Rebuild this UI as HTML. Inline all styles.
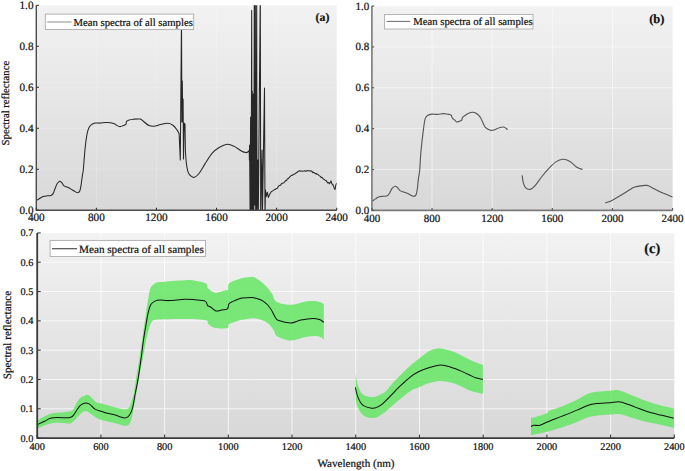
<!DOCTYPE html>
<html><head><meta charset="utf-8"><style>
html,body{margin:0;padding:0;background:#fff;width:685px;height:471px;overflow:hidden}
text{text-rendering:geometricPrecision;stroke:#111;stroke-width:0.22px}
</style></head><body>
<svg width="685" height="471" viewBox="0 0 685 471" style="display:block">
<defs>
<linearGradient id="gA" x1="0" y1="0" x2="0" y2="1"><stop offset="0" stop-color="#f2f2f2"/><stop offset="1" stop-color="#d8d8d8"/></linearGradient>
<linearGradient id="gC" x1="0" y1="0" x2="0" y2="1"><stop offset="0" stop-color="#f2f2f2"/><stop offset="1" stop-color="#d8d8d8"/></linearGradient>
<clipPath id="cA"><rect x="36.3" y="5.3" width="300.4" height="205.0"/></clipPath>
<clipPath id="cB"><rect x="371.9" y="6.0" width="300.70000000000005" height="204.4"/></clipPath>
<clipPath id="cC"><rect x="37.2" y="232.9" width="637.0999999999999" height="205.20000000000002"/></clipPath>
</defs>
<rect width="685" height="471" fill="#fff"/>
<rect x="36.3" y="5.3" width="300.4" height="205.0" fill="url(#gA)"/>
<line x1="96.38" y1="5.3" x2="96.38" y2="210.3" stroke="#ffffff" stroke-opacity="0.18" stroke-width="1"/>
<line x1="156.46" y1="5.3" x2="156.46" y2="210.3" stroke="#ffffff" stroke-opacity="0.18" stroke-width="1"/>
<line x1="216.54" y1="5.3" x2="216.54" y2="210.3" stroke="#ffffff" stroke-opacity="0.18" stroke-width="1"/>
<line x1="276.62" y1="5.3" x2="276.62" y2="210.3" stroke="#ffffff" stroke-opacity="0.18" stroke-width="1"/>
<line x1="36.3" y1="169.30" x2="336.7" y2="169.30" stroke="#ffffff" stroke-opacity="0.18" stroke-width="1"/>
<line x1="36.3" y1="128.30" x2="336.7" y2="128.30" stroke="#ffffff" stroke-opacity="0.18" stroke-width="1"/>
<line x1="36.3" y1="87.30" x2="336.7" y2="87.30" stroke="#ffffff" stroke-opacity="0.18" stroke-width="1"/>
<line x1="36.3" y1="46.30" x2="336.7" y2="46.30" stroke="#ffffff" stroke-opacity="0.18" stroke-width="1"/>
<line x1="36.3" y1="5.30" x2="336.7" y2="5.30" stroke="#ffffff" stroke-opacity="0.18" stroke-width="1"/>
<g clip-path="url(#cA)"><path d="M36.90,200.20 C37.48,199.83 39.23,198.65 40.40,198.00 C41.57,197.35 42.73,196.67 43.90,196.30 C45.07,195.93 46.23,195.95 47.40,195.80 C48.57,195.65 49.95,195.77 50.90,195.40 C51.85,195.03 52.45,194.62 53.10,193.60 C53.75,192.58 54.15,190.90 54.80,189.30 C55.45,187.70 56.20,185.35 57.00,184.00 C57.80,182.65 58.80,181.42 59.60,181.20 C60.40,180.98 61.07,181.93 61.80,182.70 C62.53,183.47 63.05,185.03 64.00,185.80 C64.95,186.57 66.33,186.75 67.50,187.30 C68.67,187.85 69.83,188.45 71.00,189.10 C72.17,189.75 73.40,190.58 74.50,191.20 C75.60,191.82 76.72,192.83 77.60,192.80 C78.48,192.77 79.22,192.32 79.80,191.00 C80.38,189.68 80.67,187.52 81.10,184.90 C81.53,182.28 82.03,177.78 82.40,175.30 C82.77,172.82 82.85,174.52 83.30,170.00 C83.75,165.48 84.48,154.17 85.10,148.20 C85.72,142.23 86.37,137.60 87.00,134.20 C87.63,130.80 88.15,129.40 88.90,127.80 C89.65,126.20 90.43,125.40 91.50,124.60 C92.57,123.80 93.82,123.25 95.30,123.00 C96.78,122.75 98.70,123.18 100.40,123.10 C102.10,123.02 103.80,122.57 105.50,122.50 C107.20,122.43 109.12,122.48 110.60,122.70 C112.08,122.92 113.35,123.33 114.40,123.80 C115.45,124.27 115.95,125.03 116.90,125.50 C117.85,125.97 119.03,126.60 120.10,126.60 C121.17,126.60 122.33,125.88 123.30,125.50 C124.27,125.12 125.37,124.97 125.90,124.30 C126.43,123.63 126.08,122.18 126.50,121.50 C126.92,120.82 127.23,120.58 128.40,120.20 C129.57,119.82 131.55,119.38 133.50,119.20 C135.45,119.02 138.37,118.68 140.10,119.10 C141.83,119.52 142.42,120.63 143.90,121.70 C145.38,122.77 147.08,124.77 149.00,125.50 C150.92,126.23 153.48,126.27 155.40,126.10 C157.32,125.93 158.38,124.97 160.50,124.50 C162.62,124.03 165.98,123.13 168.10,123.30 C170.22,123.47 171.72,124.40 173.20,125.50 C174.68,126.60 176.02,128.55 177.00,129.90 C177.98,131.25 178.75,132.98 179.10,133.60 L179.10,133.60 L180.30,160.00 L180.60,123.00 L181.50,20.00 L181.90,122.00 L182.30,81.00 L182.70,122.00 L183.10,99.00 L183.50,159.00 L184.10,123.00 L185.00,124.00 L185.40,151.00 L185.40,151.00 C185.55,152.95 185.85,159.18 186.30,162.70 C186.75,166.22 187.32,169.85 188.10,172.10 C188.88,174.35 189.93,175.33 191.00,176.20 C192.07,177.07 193.13,177.80 194.50,177.30 C195.87,176.80 197.45,175.43 199.20,173.20 C200.95,170.97 202.87,167.20 205.00,163.90 C207.13,160.60 209.65,156.13 212.00,153.40 C214.35,150.67 216.57,149.02 219.10,147.50 C221.63,145.98 224.67,144.48 227.20,144.30 C229.73,144.12 231.95,145.28 234.30,146.40 C236.65,147.52 239.37,149.97 241.30,151.00 C243.23,152.03 244.73,152.50 245.90,152.60 C247.07,152.70 247.75,152.03 248.30,151.60 C248.85,151.17 249.05,150.27 249.20,150.00 L249.20,150.00 L249.40,160.00 L249.60,145.00 L250.10,215.00 L250.60,117.00 L251.10,215.00 L251.70,10.40 L252.00,215.00 L252.30,91.00 L252.80,215.00 L253.40,94.00 L253.80,215.00 L254.30,-10.00 L254.70,205.00 L255.30,-10.00 L255.70,215.00 L255.90,82.00 L256.20,215.00 L256.70,-10.00 L257.00,215.00 L257.80,160.00 L258.30,215.00 L260.30,-10.00 L260.70,215.00 L262.00,150.00 L262.40,215.00 L264.50,88.00 L265.00,215.00 L265.50,190.00 L266.20,196.60 L266.20,196.60 L267.30,192.20 L268.40,197.52 L269.25,195.15 L270.10,193.45 L271.20,191.77 L272.30,191.14 L273.40,190.42 L274.50,189.56 L275.43,189.44 L276.37,188.40 L277.30,188.23 L278.15,186.77 L279.00,185.69 L279.83,185.37 L280.67,185.13 L281.50,183.77 L282.33,183.22 L283.17,182.98 L284.00,182.65 L284.86,181.53 L285.71,180.61 L286.57,180.44 L287.42,178.77 L288.28,178.84 L289.13,177.52 L289.99,176.63 L290.84,175.86 L291.70,175.31 L292.57,175.33 L293.43,174.20 L294.30,174.11 L295.17,173.68 L296.03,172.93 L296.90,172.61 L297.77,171.64 L298.63,171.15 L299.50,170.81 L300.40,171.28 L301.30,171.03 L302.20,170.91 L303.10,171.19 L304.00,171.05 L304.82,170.82 L305.65,171.24 L306.48,171.07 L307.30,170.54 L308.12,170.80 L308.95,170.68 L309.78,170.95 L310.60,170.73 L311.70,171.14 L312.80,172.68 L313.64,172.23 L314.48,172.94 L315.31,173.69 L316.15,173.50 L316.99,174.25 L317.82,174.21 L318.66,175.28 L319.50,175.84 L320.42,176.35 L321.33,177.60 L322.25,177.42 L323.17,178.88 L324.08,179.45 L325.00,180.18 L326.00,180.39 L327.00,181.89 L327.83,183.00 L328.67,182.46 L329.50,183.80 L331.00,181.03 L331.90,183.91 L332.80,184.44 L334.00,187.41 L335.00,189.61 L335.85,184.89 L336.70,183.30" fill="none" stroke="#262626" stroke-width="1.05" stroke-linejoin="round"/></g>
<path d="M36.3,5.3 L36.3,210.3 L336.7,210.3" fill="none" stroke="#4a4a4a" stroke-width="1.4"/>
<line x1="36.30" y1="210.3" x2="36.30" y2="207.70" stroke="#333" stroke-width="1.1"/>
<text x="36.30" y="221.2" text-anchor="middle" style="font-family:'Liberation Serif',serif;font-size:11.2px" fill="#111">400</text>
<line x1="96.38" y1="210.3" x2="96.38" y2="207.70" stroke="#333" stroke-width="1.1"/>
<text x="96.38" y="221.2" text-anchor="middle" style="font-family:'Liberation Serif',serif;font-size:11.2px" fill="#111">800</text>
<line x1="156.46" y1="210.3" x2="156.46" y2="207.70" stroke="#333" stroke-width="1.1"/>
<text x="156.46" y="221.2" text-anchor="middle" style="font-family:'Liberation Serif',serif;font-size:11.2px" fill="#111">1200</text>
<line x1="216.54" y1="210.3" x2="216.54" y2="207.70" stroke="#333" stroke-width="1.1"/>
<text x="216.54" y="221.2" text-anchor="middle" style="font-family:'Liberation Serif',serif;font-size:11.2px" fill="#111">1600</text>
<line x1="276.62" y1="210.3" x2="276.62" y2="207.70" stroke="#333" stroke-width="1.1"/>
<text x="276.62" y="221.2" text-anchor="middle" style="font-family:'Liberation Serif',serif;font-size:11.2px" fill="#111">2000</text>
<line x1="336.70" y1="210.3" x2="336.70" y2="207.70" stroke="#333" stroke-width="1.1"/>
<text x="336.70" y="221.2" text-anchor="middle" style="font-family:'Liberation Serif',serif;font-size:11.2px" fill="#111">2400</text>
<line x1="36.3" y1="210.30" x2="38.90" y2="210.30" stroke="#333" stroke-width="1.1"/>
<text x="33.5" y="213.90" text-anchor="end" style="font-family:'Liberation Serif',serif;font-size:11.2px" fill="#111">0.0</text>
<line x1="36.3" y1="169.30" x2="38.90" y2="169.30" stroke="#333" stroke-width="1.1"/>
<text x="33.5" y="172.90" text-anchor="end" style="font-family:'Liberation Serif',serif;font-size:11.2px" fill="#111">0.2</text>
<line x1="36.3" y1="128.30" x2="38.90" y2="128.30" stroke="#333" stroke-width="1.1"/>
<text x="33.5" y="131.90" text-anchor="end" style="font-family:'Liberation Serif',serif;font-size:11.2px" fill="#111">0.4</text>
<line x1="36.3" y1="87.30" x2="38.90" y2="87.30" stroke="#333" stroke-width="1.1"/>
<text x="33.5" y="90.90" text-anchor="end" style="font-family:'Liberation Serif',serif;font-size:11.2px" fill="#111">0.6</text>
<line x1="36.3" y1="46.30" x2="38.90" y2="46.30" stroke="#333" stroke-width="1.1"/>
<text x="33.5" y="49.90" text-anchor="end" style="font-family:'Liberation Serif',serif;font-size:11.2px" fill="#111">0.8</text>
<line x1="36.3" y1="5.30" x2="38.90" y2="5.30" stroke="#333" stroke-width="1.1"/>
<text x="33.5" y="8.90" text-anchor="end" style="font-family:'Liberation Serif',serif;font-size:11.2px" fill="#111">1.0</text>
<rect x="45.3" y="14.1" width="148.39999999999998" height="15.500000000000002" fill="#fff" stroke="#a8a8a8" stroke-width="0.85"/>
<line x1="47.2" y1="22.0" x2="71.5" y2="22.0" stroke="#a0a0a0" stroke-width="1.2"/>
<text x="73.5" y="25.6" style="font-family:'Liberation Serif',serif;font-size:10.7px" fill="#111">Mean spectra of all samples</text>
<text x="315.6" y="20.8" style="font-family:'Liberation Serif',serif;font-size:11.8px;font-weight:bold" fill="#111">(a)</text>
<text transform="translate(9.2,145.4) rotate(-90)" x="0" y="0" style="font-family:'Liberation Serif',serif;font-size:10.7px" fill="#111">Spectral reflectance</text>
<rect x="371.9" y="6.0" width="300.70000000000005" height="204.4" fill="url(#gA)"/>
<line x1="432.04" y1="6.0" x2="432.04" y2="210.4" stroke="#ffffff" stroke-opacity="0.5" stroke-width="1"/>
<line x1="492.18" y1="6.0" x2="492.18" y2="210.4" stroke="#ffffff" stroke-opacity="0.5" stroke-width="1"/>
<line x1="552.32" y1="6.0" x2="552.32" y2="210.4" stroke="#ffffff" stroke-opacity="0.5" stroke-width="1"/>
<line x1="612.46" y1="6.0" x2="612.46" y2="210.4" stroke="#ffffff" stroke-opacity="0.5" stroke-width="1"/>
<line x1="371.9" y1="169.52" x2="672.6" y2="169.52" stroke="#ffffff" stroke-opacity="0.5" stroke-width="1"/>
<line x1="371.9" y1="128.64" x2="672.6" y2="128.64" stroke="#ffffff" stroke-opacity="0.5" stroke-width="1"/>
<line x1="371.9" y1="87.76" x2="672.6" y2="87.76" stroke="#ffffff" stroke-opacity="0.5" stroke-width="1"/>
<line x1="371.9" y1="46.88" x2="672.6" y2="46.88" stroke="#ffffff" stroke-opacity="0.5" stroke-width="1"/>
<line x1="371.9" y1="6.00" x2="672.6" y2="6.00" stroke="#ffffff" stroke-opacity="0.5" stroke-width="1"/>
<path d="M372.40,201.10 C372.92,200.73 374.40,199.63 375.50,198.90 C376.60,198.17 377.68,197.13 379.00,196.70 C380.32,196.27 382.02,196.45 383.40,196.30 C384.78,196.15 386.28,196.32 387.30,195.80 C388.32,195.28 388.70,194.43 389.50,193.20 C390.30,191.97 391.15,189.57 392.10,188.40 C393.05,187.23 394.32,186.35 395.20,186.20 C396.08,186.05 396.60,186.77 397.40,187.50 C398.20,188.23 398.98,189.87 400.00,190.60 C401.02,191.33 402.18,191.40 403.50,191.90 C404.82,192.40 406.58,193.02 407.90,193.60 C409.22,194.18 410.38,194.93 411.40,195.40 C412.42,195.87 413.20,196.55 414.00,196.40 C414.80,196.25 415.62,195.98 416.20,194.50 C416.78,193.02 417.13,190.12 417.50,187.50 C417.87,184.88 418.03,181.72 418.40,178.80 C418.77,175.88 419.27,174.63 419.70,170.00 C420.13,165.37 420.37,157.85 421.00,151.00 C421.63,144.15 422.80,134.28 423.50,128.90 C424.20,123.52 424.50,120.97 425.20,118.70 C425.90,116.43 426.57,116.07 427.70,115.30 C428.83,114.53 430.43,114.25 432.00,114.10 C433.57,113.95 435.27,114.48 437.10,114.40 C438.93,114.32 441.57,113.68 443.00,113.60 C444.43,113.52 444.70,113.77 445.70,113.90 C446.70,114.03 448.10,114.18 449.00,114.40 C449.90,114.62 450.53,114.58 451.10,115.20 C451.67,115.82 451.82,117.30 452.40,118.10 C452.98,118.90 453.90,119.37 454.60,120.00 C455.30,120.63 455.75,121.70 456.60,121.90 C457.45,122.10 458.85,121.48 459.70,121.20 C460.55,120.92 461.22,120.85 461.70,120.20 C462.18,119.55 461.97,118.13 462.60,117.30 C463.23,116.47 464.48,115.87 465.50,115.20 C466.52,114.53 467.53,113.78 468.70,113.30 C469.87,112.82 471.33,112.35 472.50,112.30 C473.67,112.25 474.45,112.25 475.70,113.00 C476.95,113.75 478.83,115.25 480.00,116.80 C481.17,118.35 481.82,120.53 482.70,122.30 C483.58,124.07 484.02,126.08 485.30,127.40 C486.58,128.72 488.92,129.78 490.40,130.20 C491.88,130.62 492.72,130.30 494.20,129.90 C495.68,129.50 497.70,128.28 499.30,127.80 C500.90,127.32 502.42,126.70 503.80,127.00 C505.18,127.30 506.97,129.17 507.60,129.60" fill="none" stroke="#555" stroke-width="1.12" stroke-linejoin="round"/>
<path d="M522.20,175.40 C522.37,176.57 522.65,180.37 523.20,182.40 C523.75,184.43 524.33,186.43 525.50,187.60 C526.67,188.77 528.63,189.68 530.20,189.40 C531.77,189.12 532.95,188.05 534.90,185.90 C536.85,183.75 539.57,179.42 541.90,176.50 C544.23,173.58 546.57,170.83 548.90,168.40 C551.23,165.97 553.57,163.42 555.90,161.90 C558.23,160.38 560.57,159.38 562.90,159.30 C565.23,159.22 567.57,160.08 569.90,161.40 C572.23,162.72 574.80,165.85 576.90,167.20 C579.00,168.55 581.57,169.12 582.50,169.50" fill="none" stroke="#555" stroke-width="1.12" stroke-linejoin="round"/>
<path d="M605.20,202.90 C606.33,202.48 609.30,201.70 612.00,200.40 C614.70,199.10 617.90,197.20 621.40,195.10 C624.90,193.00 630.28,189.25 633.00,187.80 C635.72,186.35 635.37,186.80 637.70,186.40 C640.03,186.00 644.28,185.02 647.00,185.40 C649.72,185.78 651.47,187.47 654.00,188.70 C656.53,189.93 659.12,191.43 662.20,192.80 C665.28,194.17 670.78,196.22 672.50,196.90" fill="none" stroke="#555" stroke-width="1.12" stroke-linejoin="round"/>
<path d="M371.9,6.0 L371.9,210.4 L672.6,210.4" fill="none" stroke="#7a7a7a" stroke-width="1.6"/>
<line x1="371.90" y1="210.4" x2="371.90" y2="208.10" stroke="#555" stroke-width="1.1"/>
<text x="371.90" y="221.6" text-anchor="middle" style="font-family:'Liberation Serif',serif;font-size:11px" fill="#111">400</text>
<line x1="432.04" y1="210.4" x2="432.04" y2="208.10" stroke="#555" stroke-width="1.1"/>
<text x="432.04" y="221.6" text-anchor="middle" style="font-family:'Liberation Serif',serif;font-size:11px" fill="#111">800</text>
<line x1="492.18" y1="210.4" x2="492.18" y2="208.10" stroke="#555" stroke-width="1.1"/>
<text x="492.18" y="221.6" text-anchor="middle" style="font-family:'Liberation Serif',serif;font-size:11px" fill="#111">1200</text>
<line x1="552.32" y1="210.4" x2="552.32" y2="208.10" stroke="#555" stroke-width="1.1"/>
<text x="552.32" y="221.6" text-anchor="middle" style="font-family:'Liberation Serif',serif;font-size:11px" fill="#111">1600</text>
<line x1="612.46" y1="210.4" x2="612.46" y2="208.10" stroke="#555" stroke-width="1.1"/>
<text x="612.46" y="221.6" text-anchor="middle" style="font-family:'Liberation Serif',serif;font-size:11px" fill="#111">2000</text>
<line x1="672.60" y1="210.4" x2="672.60" y2="208.10" stroke="#555" stroke-width="1.1"/>
<text x="672.60" y="221.6" text-anchor="middle" style="font-family:'Liberation Serif',serif;font-size:11px" fill="#111">2400</text>
<line x1="371.9" y1="210.40" x2="374.20" y2="210.40" stroke="#555" stroke-width="1.1"/>
<text x="369.2" y="214.00" text-anchor="end" style="font-family:'Liberation Serif',serif;font-size:11px" fill="#111">0.0</text>
<line x1="371.9" y1="169.52" x2="374.20" y2="169.52" stroke="#555" stroke-width="1.1"/>
<text x="369.2" y="173.12" text-anchor="end" style="font-family:'Liberation Serif',serif;font-size:11px" fill="#111">0.2</text>
<line x1="371.9" y1="128.64" x2="374.20" y2="128.64" stroke="#555" stroke-width="1.1"/>
<text x="369.2" y="132.24" text-anchor="end" style="font-family:'Liberation Serif',serif;font-size:11px" fill="#111">0.4</text>
<line x1="371.9" y1="87.76" x2="374.20" y2="87.76" stroke="#555" stroke-width="1.1"/>
<text x="369.2" y="91.36" text-anchor="end" style="font-family:'Liberation Serif',serif;font-size:11px" fill="#111">0.6</text>
<line x1="371.9" y1="46.88" x2="374.20" y2="46.88" stroke="#555" stroke-width="1.1"/>
<text x="369.2" y="50.48" text-anchor="end" style="font-family:'Liberation Serif',serif;font-size:11px" fill="#111">0.8</text>
<line x1="371.9" y1="6.00" x2="374.20" y2="6.00" stroke="#555" stroke-width="1.1"/>
<text x="369.2" y="9.60" text-anchor="end" style="font-family:'Liberation Serif',serif;font-size:11px" fill="#111">1.0</text>
<rect x="384.6" y="14.4" width="148.39999999999998" height="14.6" fill="#fff" stroke="#a8a8a8" stroke-width="0.85"/>
<line x1="386.6" y1="21.4" x2="410.2" y2="21.4" stroke="#6a6a6a" stroke-width="1.0"/>
<text x="413.3" y="25.3" style="font-family:'Liberation Serif',serif;font-size:10.7px" fill="#111">Mean spectra of all samples</text>
<text x="649.2" y="23.1" style="font-family:'Liberation Serif',serif;font-size:12.5px;font-weight:bold" fill="#111">(b)</text>
<rect x="37.2" y="232.9" width="637.0999999999999" height="205.20000000000002" fill="url(#gC)"/>
<line x1="100.91" y1="232.9" x2="100.91" y2="438.1" stroke="#ffffff" stroke-opacity="0.72" stroke-width="1"/>
<line x1="164.62" y1="232.9" x2="164.62" y2="438.1" stroke="#ffffff" stroke-opacity="0.72" stroke-width="1"/>
<line x1="228.33" y1="232.9" x2="228.33" y2="438.1" stroke="#ffffff" stroke-opacity="0.72" stroke-width="1"/>
<line x1="292.04" y1="232.9" x2="292.04" y2="438.1" stroke="#ffffff" stroke-opacity="0.72" stroke-width="1"/>
<line x1="355.75" y1="232.9" x2="355.75" y2="438.1" stroke="#ffffff" stroke-opacity="0.72" stroke-width="1"/>
<line x1="419.46" y1="232.9" x2="419.46" y2="438.1" stroke="#ffffff" stroke-opacity="0.72" stroke-width="1"/>
<line x1="483.17" y1="232.9" x2="483.17" y2="438.1" stroke="#ffffff" stroke-opacity="0.72" stroke-width="1"/>
<line x1="546.88" y1="232.9" x2="546.88" y2="438.1" stroke="#ffffff" stroke-opacity="0.72" stroke-width="1"/>
<line x1="610.59" y1="232.9" x2="610.59" y2="438.1" stroke="#ffffff" stroke-opacity="0.72" stroke-width="1"/>
<line x1="37.2" y1="408.79" x2="674.3" y2="408.79" stroke="#ffffff" stroke-opacity="0.72" stroke-width="1"/>
<line x1="37.2" y1="379.47" x2="674.3" y2="379.47" stroke="#ffffff" stroke-opacity="0.72" stroke-width="1"/>
<line x1="37.2" y1="350.16" x2="674.3" y2="350.16" stroke="#ffffff" stroke-opacity="0.72" stroke-width="1"/>
<line x1="37.2" y1="320.84" x2="674.3" y2="320.84" stroke="#ffffff" stroke-opacity="0.72" stroke-width="1"/>
<line x1="37.2" y1="291.53" x2="674.3" y2="291.53" stroke="#ffffff" stroke-opacity="0.72" stroke-width="1"/>
<line x1="37.2" y1="262.21" x2="674.3" y2="262.21" stroke="#ffffff" stroke-opacity="0.72" stroke-width="1"/>
<line x1="37.2" y1="232.90" x2="674.3" y2="232.90" stroke="#ffffff" stroke-opacity="0.72" stroke-width="1"/>
<path d="M37.00,420.90 C38.25,420.18 41.98,417.87 44.50,416.60 C47.02,415.33 49.27,414.00 52.10,413.30 C54.93,412.60 58.23,412.83 61.50,412.40 C64.77,411.97 69.45,411.77 71.70,410.70 C73.95,409.63 73.88,407.77 75.00,406.00 C76.12,404.23 77.27,401.65 78.40,400.10 C79.53,398.55 80.87,397.40 81.80,396.70 C82.73,396.00 83.07,396.23 84.00,395.90 C84.93,395.57 86.27,394.55 87.40,394.70 C88.53,394.85 89.38,395.60 90.80,396.80 C92.22,398.00 94.07,400.77 95.90,401.90 C97.73,403.03 99.12,402.82 101.80,403.60 C104.48,404.38 108.73,405.68 112.00,406.60 C115.27,407.52 118.85,408.68 121.40,409.10 C123.95,409.52 125.82,409.73 127.30,409.10 C128.78,408.47 129.45,407.07 130.30,405.30 C131.15,403.53 131.78,400.63 132.40,398.50 C133.02,396.37 133.52,394.92 134.00,392.50 C134.48,390.08 134.42,389.57 135.30,384.00 C136.18,378.43 138.17,366.43 139.30,359.10 C140.43,351.77 141.07,347.07 142.10,340.00 C143.13,332.93 144.60,322.85 145.50,316.70 C146.40,310.55 146.82,307.40 147.50,303.10 C148.18,298.80 148.92,293.72 149.60,290.90 C150.28,288.08 150.70,287.43 151.60,286.20 C152.50,284.97 153.60,284.18 155.00,283.50 C156.40,282.82 155.00,282.65 160.00,282.10 C165.00,281.55 179.18,280.43 185.00,280.20 C190.82,279.97 191.45,280.18 194.90,280.70 C198.35,281.22 203.58,282.13 205.70,283.30 C207.82,284.47 207.07,286.75 207.60,287.70 C208.13,288.65 207.62,288.15 208.90,289.00 C210.18,289.85 212.53,292.58 215.30,292.80 C218.07,293.02 223.38,290.83 225.50,290.30 C227.62,289.77 227.37,290.77 228.00,289.60 C228.63,288.43 227.30,285.10 229.30,283.30 C231.30,281.50 236.57,279.83 240.00,278.80 C243.43,277.77 247.40,277.30 249.90,277.10 C252.40,276.90 252.45,276.23 255.00,277.60 C257.55,278.97 262.37,282.60 265.20,285.30 C268.03,288.00 270.17,291.12 272.00,293.80 C273.83,296.48 273.08,299.57 276.20,301.40 C279.32,303.23 285.75,304.80 290.70,304.80 C295.65,304.80 301.38,301.97 305.90,301.40 C310.42,300.83 314.82,300.97 317.80,301.40 C320.78,301.83 322.80,303.57 323.80,304.00 L323.80,339.30 C322.80,338.78 320.78,336.57 317.80,336.20 C314.82,335.83 310.42,336.38 305.90,337.10 C301.38,337.82 295.50,340.65 290.70,340.50 C285.90,340.35 279.93,337.90 277.10,336.20 C274.27,334.50 275.40,332.57 273.70,330.30 C272.00,328.03 270.13,324.60 266.90,322.60 C263.67,320.60 258.37,318.77 254.30,318.30 C250.23,317.83 244.88,319.48 242.50,319.80 C240.12,320.12 242.20,319.50 240.00,320.20 C237.80,320.90 231.40,322.72 229.30,324.00 C227.20,325.28 229.73,327.25 227.40,327.90 C225.07,328.55 218.48,328.55 215.30,327.90 C212.12,327.25 209.90,325.28 208.30,324.00 C206.70,322.72 209.58,321.03 205.70,320.20 C201.82,319.37 192.62,319.13 185.00,319.00 C177.38,318.87 165.12,319.22 160.00,319.40 C154.88,319.58 155.70,319.65 154.30,320.10 C152.90,320.55 152.50,320.63 151.60,322.10 C150.70,323.57 149.80,325.92 148.90,328.90 C148.00,331.88 147.02,336.15 146.20,340.00 C145.38,343.85 144.78,347.83 144.00,352.00 C143.22,356.17 142.32,360.63 141.50,365.00 C140.68,369.37 140.25,371.87 139.10,378.20 C137.95,384.53 135.58,397.50 134.60,403.00 C133.62,408.50 133.72,408.55 133.20,411.20 C132.68,413.85 132.20,416.70 131.50,418.90 C130.80,421.10 130.13,423.27 129.00,424.40 C127.87,425.53 126.82,425.85 124.70,425.70 C122.58,425.55 119.12,424.22 116.30,423.50 C113.48,422.78 110.63,422.10 107.80,421.40 C104.97,420.70 102.00,420.43 99.30,419.30 C96.60,418.17 93.58,415.88 91.60,414.60 C89.62,413.32 88.67,412.10 87.40,411.60 C86.13,411.10 84.93,411.40 84.00,411.60 C83.07,411.80 82.73,412.03 81.80,412.80 C80.87,413.57 79.80,414.78 78.40,416.20 C77.00,417.62 74.80,420.10 73.40,421.30 C72.00,422.50 71.98,423.12 70.00,423.40 C68.02,423.68 64.33,423.07 61.50,423.00 C58.67,422.93 55.83,422.57 53.00,423.00 C50.17,423.43 47.17,424.60 44.50,425.60 C41.83,426.60 38.25,428.43 37.00,429.00 Z" fill="#5fe65f" fill-opacity="0.82" stroke="none"/>
<path d="M355.70,374.00 C356.02,375.70 356.63,381.02 357.60,384.20 C358.57,387.38 360.00,391.08 361.50,393.10 C363.00,395.12 364.48,395.67 366.60,396.30 C368.72,396.93 371.87,397.22 374.20,396.90 C376.53,396.58 378.80,395.20 380.60,394.40 C382.40,393.60 383.10,393.83 385.00,392.10 C386.90,390.37 389.88,386.33 392.00,384.00 C394.12,381.67 395.70,380.18 397.70,378.10 C399.70,376.02 401.87,373.62 404.00,371.50 C406.13,369.38 408.07,367.48 410.50,365.40 C412.93,363.32 416.18,360.92 418.60,359.00 C421.02,357.08 423.02,355.33 425.00,353.90 C426.98,352.47 427.88,351.32 430.50,350.40 C433.12,349.48 436.73,348.12 440.70,348.40 C444.67,348.68 449.20,350.07 454.30,352.10 C459.40,354.13 466.53,358.47 471.30,360.60 C476.07,362.73 480.97,364.18 482.90,364.90 L482.90,393.80 C480.68,393.23 474.37,392.10 469.60,390.40 C464.83,388.70 459.12,385.17 454.30,383.60 C449.48,382.03 444.67,381.15 440.70,381.00 C436.73,380.85 433.12,382.12 430.50,382.70 C427.88,383.28 426.98,383.70 425.00,384.50 C423.02,385.30 421.02,386.43 418.60,387.50 C416.18,388.57 413.98,388.65 410.50,390.90 C407.02,393.15 401.63,397.73 397.70,401.00 C393.77,404.27 390.18,407.88 386.90,410.50 C383.62,413.12 380.75,415.45 378.00,416.70 C375.25,417.95 372.95,418.32 370.40,418.00 C367.85,417.68 364.83,416.62 362.70,414.80 C360.57,412.98 358.77,409.57 357.60,407.10 C356.43,404.63 356.02,401.18 355.70,400.00 Z" fill="#5fe65f" fill-opacity="0.82" stroke="none"/>
<path d="M531.00,417.60 C531.48,417.60 531.18,418.35 533.90,417.60 C536.62,416.85 544.82,414.22 547.30,413.10 C549.78,411.98 546.07,412.13 548.80,410.90 C551.53,409.67 558.75,407.68 563.70,405.70 C568.65,403.72 574.05,401.12 578.50,399.00 C582.95,396.88 585.17,394.37 590.40,393.00 C595.63,391.63 605.05,391.22 609.90,390.80 C614.75,390.38 615.55,389.63 619.50,390.50 C623.45,391.37 629.02,394.22 633.60,396.00 C638.18,397.78 642.28,399.58 647.00,401.20 C651.72,402.82 657.43,404.52 661.90,405.70 C666.37,406.88 671.82,407.87 673.80,408.30 L673.80,428.00 C671.82,427.50 666.37,426.00 661.90,425.00 C657.43,424.00 651.72,423.12 647.00,422.00 C642.28,420.88 638.05,419.58 633.60,418.30 C629.15,417.02 624.25,414.92 620.30,414.30 C616.35,413.68 614.88,414.18 609.90,414.60 C604.92,415.02 595.88,415.57 590.40,416.80 C584.92,418.03 581.70,420.27 577.00,422.00 C572.30,423.73 567.15,425.58 562.20,427.20 C557.25,428.82 552.50,430.38 547.30,431.70 C542.10,433.02 533.72,434.53 531.00,435.10 Z" fill="#5fe65f" fill-opacity="0.82" stroke="none"/>
<path d="M37.30,424.70 C38.50,424.13 42.32,422.37 44.50,421.30 C46.68,420.23 48.28,418.93 50.40,418.30 C52.52,417.67 54.65,417.58 57.20,417.50 C59.75,417.42 63.43,417.85 65.70,417.80 C67.97,417.75 69.52,417.60 70.80,417.20 C72.08,416.80 72.42,416.55 73.40,415.40 C74.38,414.25 75.58,411.93 76.70,410.30 C77.82,408.67 78.97,406.73 80.10,405.60 C81.23,404.47 82.28,403.90 83.50,403.50 C84.72,403.10 86.33,403.05 87.40,403.20 C88.47,403.35 88.63,403.42 89.90,404.40 C91.17,405.38 93.15,407.97 95.00,409.10 C96.85,410.23 99.15,410.57 101.00,411.20 C102.85,411.83 103.98,412.33 106.10,412.90 C108.22,413.47 111.43,413.97 113.70,414.60 C115.97,415.23 117.87,416.13 119.70,416.70 C121.53,417.27 123.30,418.00 124.70,418.00 C126.10,418.00 127.10,417.55 128.10,416.70 C129.10,415.85 129.92,414.52 130.70,412.90 C131.48,411.28 132.03,410.23 132.80,407.00 C133.57,403.77 134.40,398.30 135.30,393.50 C136.20,388.70 137.25,383.93 138.20,378.20 C139.15,372.47 140.12,365.47 141.00,359.10 C141.88,352.73 142.63,345.93 143.50,340.00 C144.37,334.07 145.42,328.07 146.20,323.50 C146.98,318.93 147.42,315.77 148.20,312.60 C148.98,309.43 149.77,306.42 150.90,304.50 C152.03,302.58 153.48,301.83 155.00,301.10 C156.52,300.37 157.63,300.18 160.00,300.10 C162.37,300.02 165.03,300.75 169.20,300.60 C173.37,300.45 180.72,299.35 185.00,299.20 C189.28,299.05 191.55,299.38 194.90,299.70 C198.25,300.02 202.98,300.12 205.10,301.10 C207.22,302.08 206.75,304.65 207.60,305.60 C208.45,306.55 208.82,305.90 210.20,306.80 C211.58,307.70 213.98,310.47 215.90,311.00 C217.82,311.53 219.78,310.37 221.70,310.00 C223.62,309.63 226.18,309.85 227.40,308.80 C228.62,307.75 228.07,304.93 229.00,303.70 C229.93,302.47 231.17,302.25 233.00,301.40 C234.83,300.55 238.42,299.17 240.00,298.60 C241.58,298.03 240.60,298.18 242.50,298.00 C244.40,297.82 249.32,297.50 251.40,297.50 C253.48,297.50 252.98,297.35 255.00,298.00 C257.02,298.65 260.95,299.70 263.50,301.40 C266.05,303.10 268.32,305.52 270.30,308.20 C272.28,310.88 273.98,315.43 275.40,317.50 C276.82,319.57 276.25,319.68 278.80,320.60 C281.35,321.52 287.03,323.08 290.70,323.00 C294.37,322.92 297.13,320.87 300.80,320.10 C304.47,319.33 309.58,318.48 312.70,318.40 C315.82,318.32 317.65,318.95 319.50,319.60 C321.35,320.25 323.08,321.85 323.80,322.30" fill="none" stroke="#111" stroke-width="1.02" stroke-linejoin="round"/>
<path d="M355.40,387.40 C355.67,388.57 356.20,391.97 357.00,394.40 C357.80,396.83 359.03,400.08 360.20,402.00 C361.37,403.92 362.08,404.87 364.00,405.90 C365.92,406.93 369.57,407.95 371.70,408.20 C373.83,408.45 374.90,408.22 376.80,407.40 C378.70,406.58 380.57,405.47 383.10,403.30 C385.63,401.13 389.57,396.90 392.00,394.40 C394.43,391.90 395.70,390.28 397.70,388.30 C399.70,386.32 401.87,384.42 404.00,382.50 C406.13,380.58 408.17,378.55 410.50,376.80 C412.83,375.05 415.23,373.42 418.00,372.00 C420.77,370.58 423.32,369.48 427.10,368.30 C430.88,367.12 436.17,364.90 440.70,364.90 C445.23,364.90 449.77,366.75 454.30,368.30 C458.83,369.85 464.22,372.57 467.90,374.20 C471.58,375.83 473.90,377.25 476.40,378.10 C478.90,378.95 481.82,379.10 482.90,379.30" fill="none" stroke="#111" stroke-width="1.02" stroke-linejoin="round"/>
<path d="M531.00,426.50 C531.48,426.30 532.42,425.50 533.90,425.30 C535.38,425.10 537.67,425.85 539.90,425.30 C542.13,424.75 543.58,423.53 547.30,422.00 C551.02,420.47 557.25,418.08 562.20,416.10 C567.15,414.12 572.53,411.97 577.00,410.10 C581.47,408.23 585.77,406.00 589.00,404.90 C592.23,403.80 592.92,403.87 596.40,403.50 C599.88,403.13 605.92,402.97 609.90,402.70 C613.88,402.43 616.35,401.28 620.30,401.90 C624.25,402.52 629.15,404.78 633.60,406.40 C638.05,408.02 642.28,410.12 647.00,411.60 C651.72,413.08 657.43,414.18 661.90,415.30 C666.37,416.42 671.82,417.80 673.80,418.30" fill="none" stroke="#111" stroke-width="1.02" stroke-linejoin="round"/>
<path d="M37.2,232.9 L37.2,438.1 L674.3,438.1" fill="none" stroke="#3a3a3a" stroke-width="1.8"/>
<line x1="37.20" y1="438.1" x2="37.20" y2="434.60" stroke="#3a3a3a" stroke-width="1.1"/>
<text x="37.20" y="449.8" text-anchor="middle" style="font-family:'Liberation Serif',serif;font-size:10.3px" fill="#111">400</text>
<line x1="100.91" y1="438.1" x2="100.91" y2="434.60" stroke="#3a3a3a" stroke-width="1.1"/>
<text x="100.91" y="449.8" text-anchor="middle" style="font-family:'Liberation Serif',serif;font-size:10.3px" fill="#111">600</text>
<line x1="164.62" y1="438.1" x2="164.62" y2="434.60" stroke="#3a3a3a" stroke-width="1.1"/>
<text x="164.62" y="449.8" text-anchor="middle" style="font-family:'Liberation Serif',serif;font-size:10.3px" fill="#111">800</text>
<line x1="228.33" y1="438.1" x2="228.33" y2="434.60" stroke="#3a3a3a" stroke-width="1.1"/>
<text x="228.33" y="449.8" text-anchor="middle" style="font-family:'Liberation Serif',serif;font-size:10.3px" fill="#111">1000</text>
<line x1="292.04" y1="438.1" x2="292.04" y2="434.60" stroke="#3a3a3a" stroke-width="1.1"/>
<text x="292.04" y="449.8" text-anchor="middle" style="font-family:'Liberation Serif',serif;font-size:10.3px" fill="#111">1200</text>
<line x1="355.75" y1="438.1" x2="355.75" y2="434.60" stroke="#3a3a3a" stroke-width="1.1"/>
<text x="355.75" y="449.8" text-anchor="middle" style="font-family:'Liberation Serif',serif;font-size:10.3px" fill="#111">1400</text>
<line x1="419.46" y1="438.1" x2="419.46" y2="434.60" stroke="#3a3a3a" stroke-width="1.1"/>
<text x="419.46" y="449.8" text-anchor="middle" style="font-family:'Liberation Serif',serif;font-size:10.3px" fill="#111">1600</text>
<line x1="483.17" y1="438.1" x2="483.17" y2="434.60" stroke="#3a3a3a" stroke-width="1.1"/>
<text x="483.17" y="449.8" text-anchor="middle" style="font-family:'Liberation Serif',serif;font-size:10.3px" fill="#111">1800</text>
<line x1="546.88" y1="438.1" x2="546.88" y2="434.60" stroke="#3a3a3a" stroke-width="1.1"/>
<text x="546.88" y="449.8" text-anchor="middle" style="font-family:'Liberation Serif',serif;font-size:10.3px" fill="#111">2000</text>
<line x1="610.59" y1="438.1" x2="610.59" y2="434.60" stroke="#3a3a3a" stroke-width="1.1"/>
<text x="610.59" y="449.8" text-anchor="middle" style="font-family:'Liberation Serif',serif;font-size:10.3px" fill="#111">2200</text>
<line x1="674.30" y1="438.1" x2="674.30" y2="434.60" stroke="#3a3a3a" stroke-width="1.1"/>
<text x="674.30" y="449.8" text-anchor="middle" style="font-family:'Liberation Serif',serif;font-size:10.3px" fill="#111">2400</text>
<line x1="37.2" y1="438.10" x2="40.70" y2="438.10" stroke="#3a3a3a" stroke-width="1.1"/>
<text x="33.3" y="441.50" text-anchor="end" style="font-family:'Liberation Serif',serif;font-size:10.3px" fill="#111">0.0</text>
<line x1="37.2" y1="408.79" x2="40.70" y2="408.79" stroke="#3a3a3a" stroke-width="1.1"/>
<text x="33.3" y="412.19" text-anchor="end" style="font-family:'Liberation Serif',serif;font-size:10.3px" fill="#111">0.1</text>
<line x1="37.2" y1="379.47" x2="40.70" y2="379.47" stroke="#3a3a3a" stroke-width="1.1"/>
<text x="33.3" y="382.87" text-anchor="end" style="font-family:'Liberation Serif',serif;font-size:10.3px" fill="#111">0.2</text>
<line x1="37.2" y1="350.16" x2="40.70" y2="350.16" stroke="#3a3a3a" stroke-width="1.1"/>
<text x="33.3" y="353.56" text-anchor="end" style="font-family:'Liberation Serif',serif;font-size:10.3px" fill="#111">0.3</text>
<line x1="37.2" y1="320.84" x2="40.70" y2="320.84" stroke="#3a3a3a" stroke-width="1.1"/>
<text x="33.3" y="324.24" text-anchor="end" style="font-family:'Liberation Serif',serif;font-size:10.3px" fill="#111">0.4</text>
<line x1="37.2" y1="291.53" x2="40.70" y2="291.53" stroke="#3a3a3a" stroke-width="1.1"/>
<text x="33.3" y="294.93" text-anchor="end" style="font-family:'Liberation Serif',serif;font-size:10.3px" fill="#111">0.5</text>
<line x1="37.2" y1="262.21" x2="40.70" y2="262.21" stroke="#3a3a3a" stroke-width="1.1"/>
<text x="33.3" y="265.61" text-anchor="end" style="font-family:'Liberation Serif',serif;font-size:10.3px" fill="#111">0.6</text>
<line x1="37.2" y1="232.90" x2="40.70" y2="232.90" stroke="#3a3a3a" stroke-width="1.1"/>
<text x="33.3" y="236.30" text-anchor="end" style="font-family:'Liberation Serif',serif;font-size:10.3px" fill="#111">0.7</text>
<rect x="50.1" y="240.4" width="155.4" height="16.099999999999994" fill="#fff" stroke="#a8a8a8" stroke-width="0.85"/>
<line x1="52.0" y1="248.7" x2="77.1" y2="248.7" stroke="#555555" stroke-width="1.25"/>
<text x="79.0" y="252.6" style="font-family:'Liberation Serif',serif;font-size:11.2px" fill="#111">Mean spectra of all samples</text>
<text x="644.3" y="252.7" style="font-family:'Liberation Serif',serif;font-size:14.4px;font-weight:bold" fill="#111">(c)</text>
<text transform="translate(11.4,379.3) rotate(-90)" x="0" y="0" style="font-family:'Liberation Serif',serif;font-size:11.2px" fill="#111">Spectral reflectance</text>
<text x="356" y="467" text-anchor="middle" style="font-family:'Liberation Serif',serif;font-size:11.1px" fill="#111">Wavelength (nm)</text>
</svg>
</body></html>
